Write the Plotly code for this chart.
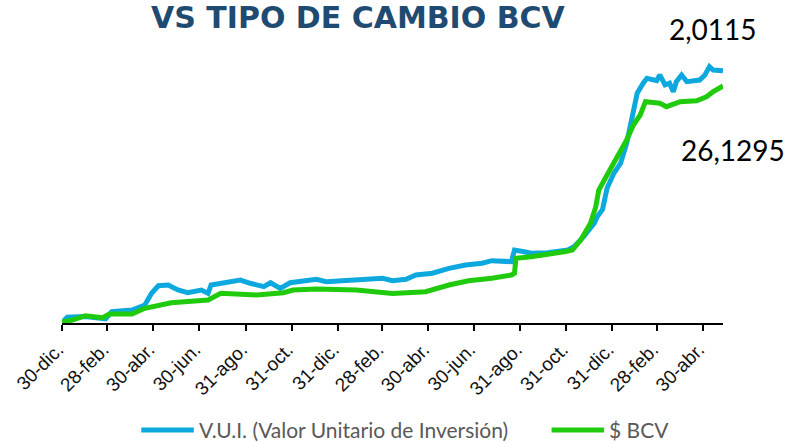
import plotly.graph_objects as go

# ---------------- data ----------------
vui_name = "V.U.I. (Valor Unitario de Inversión)"
bcv_name = "$ BCV"

vui_dates = [
    "2020-12-31", "2021-01-06", "2021-01-30", "2021-02-26", "2021-03-06", "2021-04-02",
    "2021-04-19", "2021-04-28", "2021-05-07", "2021-05-20", "2021-06-02", "2021-06-15",
    "2021-07-03", "2021-07-12", "2021-07-16", "2021-08-02", "2021-08-24", "2021-09-06",
    "2021-09-24", "2021-10-03", "2021-10-16", "2021-10-29", "2021-11-16", "2021-12-03",
    "2021-12-16", "2022-01-07", "2022-02-03", "2022-03-01", "2022-03-14", "2022-04-01",
    "2022-04-14", "2022-05-06", "2022-05-28", "2022-06-19", "2022-07-11", "2022-07-24",
    "2022-08-19", "2022-08-23", "2022-09-05", "2022-09-14", "2022-10-06", "2022-11-02",
    "2022-11-10", "2022-11-23", "2022-12-07", "2022-12-11", "2022-12-18", "2022-12-24",
    "2023-01-02", "2023-01-11", "2023-01-19", "2023-01-26", "2023-02-02", "2023-02-10",
    "2023-02-15", "2023-02-28", "2023-03-04", "2023-03-11", "2023-03-17", "2023-03-22",
    "2023-03-26", "2023-04-02", "2023-04-09", "2023-04-26", "2023-05-03", "2023-05-09",
    "2023-05-14", "2023-05-27",
]
vui_values = [
    0.080, 0.114, 0.120, 0.101, 0.157, 0.170,
    0.209, 0.299, 0.357, 0.363, 0.324, 0.303,
    0.324, 0.299, 0.363, 0.376, 0.401, 0.376,
    0.350, 0.380, 0.337, 0.380, 0.396, 0.406,
    0.388, 0.396, 0.414, 0.414, 0.396, 0.406,
    0.440, 0.453, 0.491, 0.517, 0.530, 0.550,
    0.542, 0.632, 0.619, 0.607, 0.611, 0.632,
    0.658, 0.735, 0.838, 0.889, 0.945, 1.107,
    1.223, 1.300, 1.454, 1.633, 1.839, 1.916,
    1.954, 1.936, 1.980, 1.903, 1.916, 1.851,
    1.928, 1.980, 1.928, 1.941, 1.980, 2.044,
    2.018, 2.0115,
]

bcv_dates = [
    "2020-12-30", "2021-01-13", "2021-01-30", "2021-02-22", "2021-03-03", "2021-04-02",
    "2021-04-19", "2021-05-07", "2021-05-24", "2021-07-12", "2021-07-29", "2021-09-15",
    "2021-10-20", "2021-11-02", "2021-12-03", "2022-01-25", "2022-02-20", "2022-03-14",
    "2022-04-27", "2022-05-28", "2022-06-23", "2022-07-24", "2022-08-19", "2022-08-23",
    "2022-08-25", "2022-09-14", "2022-10-28", "2022-11-08", "2022-11-19", "2022-12-02",
    "2022-12-09", "2022-12-13", "2022-12-24", "2023-01-02", "2023-01-19", "2023-01-28",
    "2023-02-06", "2023-02-13", "2023-03-04", "2023-03-13", "2023-03-31", "2023-04-22",
    "2023-05-05", "2023-05-14", "2023-05-27",
]
bcv_values = [
    1.107, 1.319, 1.775, 1.563, 1.956, 1.956,
    2.560, 2.910, 3.154, 3.440, 4.151, 3.970,
    4.214, 4.500, 4.607, 4.500, 4.320, 4.130,
    4.320, 5.031, 5.487, 5.741, 6.091, 6.271,
    7.862, 8.032, 8.562, 8.742, 9.803, 11.573,
    13.334, 15.105, 16.695, 17.936, 20.407, 22.000,
    23.057, 24.468, 24.298, 23.938, 24.468, 24.574,
    24.998, 25.528, 26.1295,
]

tick_dates = [
    "2020-12-30", "2021-02-28", "2021-04-30", "2021-06-30", "2021-08-31", "2021-10-31",
    "2021-12-31", "2022-02-28", "2022-04-30", "2022-06-30", "2022-08-31", "2022-10-31",
    "2022-12-31", "2023-02-28", "2023-04-30",
]
tick_labels = [
    "30-dic.", "28-feb.", "30-abr.", "30-jun.", "31-ago.", "31-oct.",
    "31-dic.", "28-feb.", "30-abr.", "30-jun.", "31-ago.", "31-oct.",
    "31-dic.", "28-feb.", "30-abr.",
]

title_text = "VS TIPO DE CAMBIO BCV"
vui_last_label = "2,0115"
bcv_last_label = "26,1295"

# ---------------- style ----------------
W, H = 791, 443
L, R, T, B = 56, 68, 50, 120
BLUE = "#0DA9DE"
GREEN = "#1FCB0C"
plot_w = W - L - R
plot_h = H - T - B


def px_x(p):
    return (p - L) / plot_w


def px_y(p):
    return (H - B - p) / plot_h


fig = go.Figure()
fig.add_trace(go.Scatter(x=vui_dates, y=vui_values, name=vui_name, mode="lines",
                         line=dict(color=BLUE, width=5), yaxis="y", showlegend=False))
fig.add_trace(go.Scatter(x=bcv_dates, y=bcv_values, name=bcv_name, mode="lines",
                         line=dict(color=GREEN, width=5), yaxis="y2", showlegend=False))

fig.update_layout(
    width=W, height=H,
    margin=dict(l=L, r=R, t=T, b=B),
    paper_bgcolor="white", plot_bgcolor="white",
    xaxis=dict(
        type="date",
        range=["2020-12-30", "2023-05-27"],
        tickvals=tick_dates, ticktext=tick_labels,
        tickangle=-45,
        ticklabelshift=-4,
        tickfont=dict(family="Liberation Sans, Arial, sans-serif", size=19, color="#111111"),
        showline=True, linecolor="#000000", linewidth=2,
        ticks="outside", ticklen=6, tickwidth=2, tickcolor="#000000",
        showgrid=False, zeroline=False,
    ),
    yaxis=dict(range=[0.07, 0.07 + plot_h * 0.0077], visible=False, showgrid=False),
    yaxis2=dict(range=[1.0012, 1.0012 + plot_h * 0.10604], visible=False, showgrid=False,
                overlaying="y", side="right"),
)

annotations = [
    dict(text=f"<b>{title_text}</b>", x=px_x(355), y=px_y(18), xref="paper", yref="paper",
         xanchor="center", yanchor="middle", showarrow=False,
         font=dict(family="DejaVu Sans, sans-serif", size=30, color="#1F4B73")),
    dict(text=vui_last_label, x=px_x(713), y=px_y(29), xref="paper", yref="paper",
         xanchor="center", yanchor="middle", showarrow=False,
         font=dict(family="Lato, sans-serif", size=28, color="#000000")),
    dict(text=bcv_last_label, x=px_x(788), y=px_y(150), xref="paper", yref="paper",
         xanchor="right", yanchor="middle", showarrow=False,
         font=dict(family="Lato, sans-serif", size=28, color="#000000")),
    dict(text=vui_name, x=px_x(192), y=px_y(429), xref="paper", yref="paper",
         xanchor="left", yanchor="middle", showarrow=False,
         font=dict(family="Lato, sans-serif", size=21, color="#595959")),
    dict(text=bcv_name, x=px_x(606), y=px_y(429), xref="paper", yref="paper",
         xanchor="left", yanchor="middle", showarrow=False,
         font=dict(family="Lato, sans-serif", size=21, color="#595959")),
]
fig.update_layout(annotations=annotations)

shapes = [
    dict(type="line", xref="paper", yref="paper", x0=px_x(136), x1=px_x(189),
         y0=px_y(430), y1=px_y(430), line=dict(color=BLUE, width=5)),
    dict(type="line", xref="paper", yref="paper", x0=px_x(550), x1=px_x(603),
         y0=px_y(430), y1=px_y(430), line=dict(color=GREEN, width=5)),
]
fig.update_layout(shapes=shapes)

fig.write_html("out.html", config={"displayModeBar": False},
               post_script="document.body.style.margin='0';document.body.style.overflow='hidden';")
